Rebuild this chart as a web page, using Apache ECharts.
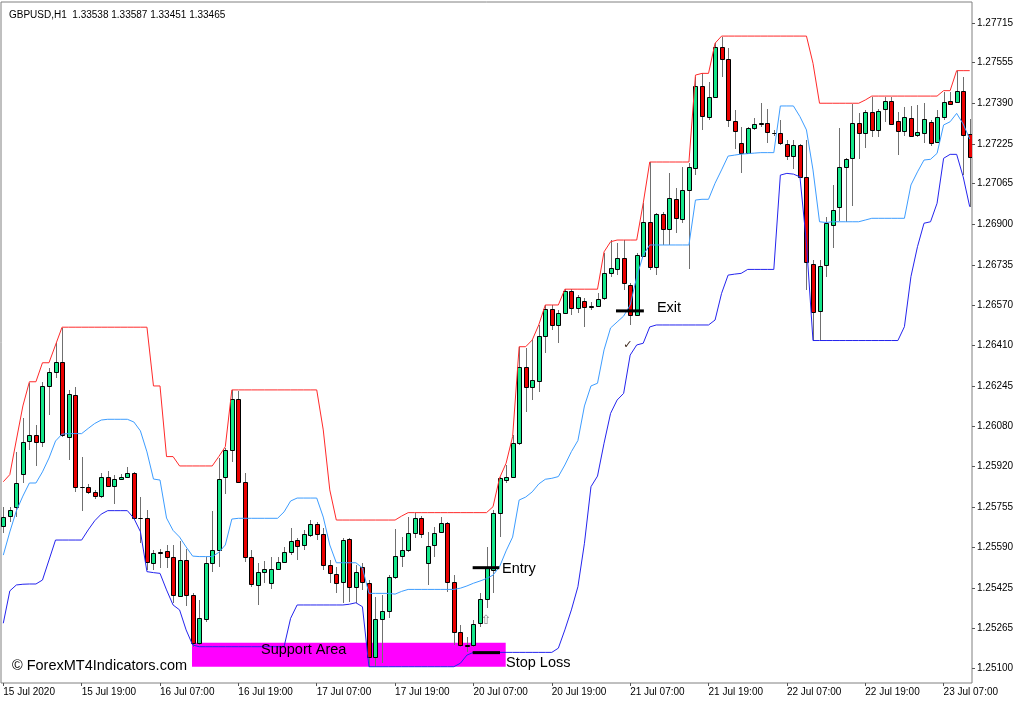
<!DOCTYPE html>
<html>
<head>
<meta charset="utf-8">
<script src="https://cdn.jsdelivr.net/npm/echarts@6/dist/echarts.min.js"></script>
<style>html,body{margin:0;padding:0;background:#fff}#c{width:1024px;height:704px}</style>
</head>
<body>
<div id="c"></div>
<script>
const headerText = 'GBPUSD,H1  1.33538 1.33587 1.33451 1.33465';
const timeLabels = ['15 Jul 2020','15 Jul 19:00','16 Jul 07:00','16 Jul 19:00','17 Jul 07:00','17 Jul 19:00','20 Jul 07:00','20 Jul 19:00','21 Jul 07:00','21 Jul 19:00','22 Jul 07:00','22 Jul 19:00','23 Jul 07:00'];
const priceTicks = [1.27715,1.27555,1.27390,1.27225,1.27065,1.26900,1.26735,1.26570,1.26410,1.26245,1.26080,1.25920,1.25755,1.25590,1.25425,1.25265,1.25100];

const opens = [
1.25678,1.25719,1.25754,1.25889,1.26022,1.26046,1.26019,1.26245,1.26303,1.26341,
1.26040,1.26209,1.25837,1.25835,1.25817,1.25801,1.25878,1.25840,1.25867,1.25877,
1.25892,1.25709,1.25711,1.25527,1.25570,1.25578,1.25552,1.25395,1.25540,1.25399,
1.25203,1.25300,1.25530,1.25581,1.25875,1.25986,1.26191,1.25857,1.25552,1.25439,
1.25490,1.25449,1.25504,1.25531,1.25571,1.25621,1.25601,1.25641,1.25684,1.25644,
1.25520,1.25482,1.25452,1.25624,1.25430,1.25512,1.25449,1.25146,1.25300,1.25334,
1.25470,1.25558,1.25581,1.25649,1.25709,1.25530,1.25601,1.25655,1.25691,1.25452,
1.25250,1.25196,1.25196,1.25286,1.25381,1.25500,1.25729,1.25864,1.25878,1.26013,
1.26323,1.26242,1.26266,1.26447,1.26555,1.26492,1.26539,1.26631,1.26560,1.26590,
1.26566,1.26569,1.26600,1.26701,1.26718,1.26762,1.26654,1.26532,1.26771,1.26908,
1.26726,1.26941,1.26880,1.27001,1.26921,1.27039,1.27127,1.27460,1.27336,1.27417,
1.27619,1.27568,1.27319,1.27230,1.27189,1.27289,1.27306,1.27309,1.27269,1.27268,
1.27225,1.27176,1.27221,1.27091,1.26739,1.26549,1.26735,1.26897,1.26969,1.27131,
1.27167,1.27311,1.27271,1.27356,1.27282,1.27365,1.27400,1.27318,1.27278,1.27331,
1.27261,1.27271,1.27315,1.27232,1.27333,1.27398,1.27394,1.27438,1.27265];

const highs = [
1.25756,1.25756,1.25979,1.26116,1.26258,1.26087,1.26262,1.26318,1.26419,1.26479,
1.26229,1.26242,1.25959,1.25848,1.25824,1.25892,1.25902,1.25885,1.25889,1.25918,
1.25895,1.25797,1.25743,1.25581,1.25584,1.25601,1.25601,1.25617,1.25584,1.25406,
1.25378,1.25554,1.25739,1.25952,1.25993,1.26229,1.26226,1.25892,1.25581,1.25530,
1.25537,1.25551,1.25551,1.25594,1.25668,1.25628,1.25662,1.25702,1.25695,1.25668,
1.25540,1.25513,1.25628,1.25628,1.25520,1.25527,1.25459,1.25392,1.25399,1.25479,
1.25664,1.25635,1.25716,1.25732,1.25718,1.25655,1.25675,1.25716,1.25695,1.25479,
1.25277,1.25230,1.25297,1.25405,1.25594,1.25743,1.25878,1.25925,1.26046,1.26404,
1.26397,1.26431,1.26492,1.26573,1.26573,1.26553,1.26636,1.26636,1.26613,1.26600,
1.26586,1.26620,1.26782,1.26836,1.26825,1.26836,1.26660,1.26782,1.26985,1.27153,
1.26947,1.26951,1.27106,1.27046,1.27133,1.27147,1.27498,1.27511,1.27477,1.27633,
1.27660,1.27613,1.27363,1.27295,1.27295,1.27329,1.27392,1.27365,1.27282,1.27322,
1.27241,1.27241,1.27225,1.27241,1.26755,1.26755,1.26930,1.27059,1.27289,1.27167,
1.27387,1.27349,1.27363,1.27417,1.27365,1.27414,1.27414,1.27356,1.27376,1.27379,
1.27383,1.27390,1.27322,1.27363,1.27437,1.27437,1.27522,1.27498,1.27325];

const lows = [
1.25651,1.25695,1.25716,1.25852,1.25986,1.25921,1.25999,1.26128,1.26278,1.26040,
1.25945,1.25817,1.25740,1.25808,1.25787,1.25790,1.25835,1.25767,1.25864,1.25872,
1.25702,1.25608,1.25500,1.25500,1.25507,1.25507,1.25365,1.25392,1.25354,1.25189,
1.25196,1.25290,1.25493,1.25511,1.25808,1.25938,1.25850,1.25533,1.25432,1.25358,
1.25448,1.25423,1.25502,1.25527,1.25561,1.25540,1.25581,1.25634,1.25621,1.25500,
1.25446,1.25405,1.25365,1.25371,1.25365,1.25419,1.25108,1.25108,1.25123,1.25304,
1.25463,1.25513,1.25574,1.25628,1.25628,1.25439,1.25554,1.25648,1.25412,1.25196,
1.25189,1.25169,1.25189,1.25270,1.25345,1.25405,1.25635,1.25851,1.25871,1.26006,
1.26141,1.26188,1.26222,1.26377,1.26472,1.26418,1.26535,1.26532,1.26539,1.26483,
1.26553,1.26565,1.26593,1.26688,1.26694,1.26634,1.26492,1.26528,1.26768,1.26715,
1.26694,1.26816,1.26816,1.26863,1.26904,1.26717,1.27099,1.27282,1.27322,1.27415,
1.27498,1.27295,1.27203,1.27106,1.27187,1.27282,1.27295,1.27228,1.27257,1.27221,
1.27160,1.27122,1.27086,1.26634,1.26427,1.26427,1.26688,1.26802,1.26914,1.26910,
1.26974,1.27163,1.27207,1.27255,1.27255,1.27315,1.27300,1.27180,1.27257,1.27255,
1.27255,1.27228,1.27217,1.27228,1.27322,1.27383,1.27390,1.27099,1.26971];

const closes = [
1.25716,1.25743,1.25851,1.26019,1.26046,1.26019,1.26245,1.26303,1.26341,1.26047,
1.26213,1.25837,1.25835,1.25817,1.25801,1.25878,1.25840,1.25867,1.25875,1.25892,
1.25709,1.25711,1.25531,1.25570,1.25574,1.25552,1.25399,1.25540,1.25399,1.25203,
1.25304,1.25527,1.25581,1.25867,1.25986,1.26191,1.25857,1.25552,1.25443,1.25493,
1.25504,1.25504,1.25531,1.25571,1.25617,1.25598,1.25644,1.25684,1.25644,1.25520,
1.25486,1.25449,1.25621,1.25430,1.25492,1.25451,1.25147,1.25300,1.25334,1.25470,
1.25558,1.25581,1.25651,1.25709,1.25646,1.25597,1.25651,1.25691,1.25452,1.25250,
1.25196,1.25190,1.25281,1.25381,1.25512,1.25729,1.25871,1.25878,1.26013,1.26323,
1.26242,1.26269,1.26447,1.26555,1.26492,1.26539,1.26631,1.26560,1.26604,1.26566,
1.26568,1.26596,1.26701,1.26722,1.26762,1.26663,1.26532,1.26775,1.26908,1.26726,
1.26941,1.26880,1.27005,1.26924,1.27039,1.27133,1.27460,1.27338,1.27417,1.27619,
1.27568,1.27322,1.27279,1.27187,1.27289,1.27305,1.27311,1.27275,1.27268,1.27228,
1.27176,1.27221,1.27093,1.26747,1.26546,1.26731,1.26904,1.26958,1.27133,1.27163,
1.27311,1.27271,1.27356,1.27282,1.27360,1.27400,1.27305,1.27278,1.27333,1.27257,
1.27272,1.27325,1.27228,1.27333,1.27396,1.27387,1.27441,1.27261,1.27174];

const upperBand = [
1.25857,1.25886,1.26026,1.26164,1.26262,1.26262,1.26339,1.26339,1.26411,1.26483,
1.26483,1.26483,1.26483,1.26483,1.26483,1.26483,1.26483,1.26483,1.26483,1.26483,
1.26483,1.26483,1.26483,1.26245,1.26245,1.25959,1.25959,1.25921,1.25921,1.25921,
1.25921,1.25921,1.25921,1.25959,1.25999,1.26229,1.26229,1.26229,1.26229,1.26229,
1.26229,1.26229,1.26229,1.26229,1.26229,1.26229,1.26229,1.26229,1.26229,1.26067,
1.25824,1.25702,1.25702,1.25702,1.25702,1.25702,1.25702,1.25702,1.25702,1.25702,
1.25702,1.25718,1.25732,1.25732,1.25732,1.25732,1.25732,1.25732,1.25732,1.25732,
1.25732,1.25732,1.25732,1.25732,1.25732,1.25756,1.25872,1.25932,1.26040,1.26404,
1.26404,1.26431,1.26492,1.26573,1.26573,1.26573,1.26637,1.26637,1.26637,1.26637,
1.26637,1.26637,1.26788,1.26829,1.26836,1.26836,1.26836,1.26836,1.26985,1.27152,
1.27152,1.27152,1.27152,1.27152,1.27152,1.27152,1.27504,1.27511,1.27511,1.27633,
1.27662,1.27662,1.27662,1.27662,1.27662,1.27662,1.27662,1.27662,1.27662,1.27662,
1.27662,1.27662,1.27662,1.27662,1.27552,1.27390,1.27390,1.27390,1.27390,1.27390,
1.27390,1.27390,1.27403,1.27419,1.27419,1.27419,1.27419,1.27419,1.27419,1.27419,
1.27419,1.27419,1.27419,1.27419,1.27441,1.27441,1.27522,1.27522,1.27522];

const middleBand = [
1.25560,1.25654,1.25739,1.25799,1.25852,1.25852,1.25897,1.25953,1.26022,1.26050,
1.26052,1.26052,1.26052,1.26073,1.26093,1.26107,1.26110,1.26110,1.26110,1.26110,
1.26099,1.26063,1.25978,1.25868,1.25864,1.25710,1.25660,1.25633,1.25593,1.25556,
1.25554,1.25554,1.25554,1.25571,1.25601,1.25706,1.25709,1.25709,1.25709,1.25709,
1.25709,1.25709,1.25709,1.25735,1.25779,1.25791,1.25791,1.25791,1.25791,1.25714,
1.25601,1.25529,1.25529,1.25529,1.25529,1.25508,1.25405,1.25405,1.25405,1.25405,
1.25402,1.25413,1.25421,1.25421,1.25421,1.25421,1.25421,1.25421,1.25421,1.25421,
1.25426,1.25435,1.25446,1.25455,1.25465,1.25479,1.25513,1.25577,1.25633,1.25783,
1.25795,1.25816,1.25848,1.25867,1.25871,1.25878,1.25925,1.25979,1.26024,1.26164,
1.26245,1.26256,1.26391,1.26480,1.26504,1.26528,1.26573,1.26686,1.26775,1.26816,
1.26816,1.26816,1.26816,1.26816,1.26816,1.26816,1.26998,1.27001,1.27001,1.27066,
1.27120,1.27176,1.27180,1.27184,1.27186,1.27188,1.27190,1.27190,1.27190,1.27379,
1.27379,1.27379,1.27336,1.27282,1.27120,1.26910,1.26907,1.26910,1.26910,1.26910,
1.26910,1.26910,1.26917,1.26924,1.26924,1.26924,1.26924,1.26924,1.26924,1.27059,
1.27112,1.27160,1.27163,1.27187,1.27302,1.27315,1.27349,1.27306,1.27245];

const lowerBand = [
1.25284,1.25415,1.25439,1.25442,1.25443,1.25443,1.25459,1.25540,1.25621,1.25621,
1.25621,1.25621,1.25621,1.25662,1.25699,1.25726,1.25740,1.25740,1.25740,1.25740,
1.25709,1.25655,1.25493,1.25489,1.25486,1.25419,1.25358,1.25338,1.25257,1.25196,
1.25189,1.25189,1.25189,1.25189,1.25189,1.25189,1.25189,1.25189,1.25189,1.25189,
1.25189,1.25189,1.25189,1.25189,1.25304,1.25358,1.25358,1.25358,1.25358,1.25358,
1.25358,1.25358,1.25358,1.25361,1.25367,1.25351,1.25108,1.25108,1.25108,1.25108,
1.25108,1.25108,1.25108,1.25108,1.25108,1.25108,1.25108,1.25108,1.25108,1.25108,
1.25122,1.25155,1.25166,1.25166,1.25166,1.25166,1.25166,1.25166,1.25166,1.25166,
1.25166,1.25166,1.25166,1.25166,1.25166,1.25183,1.25257,1.25338,1.25432,1.25608,
1.25837,1.25880,1.26013,1.26134,1.26188,1.26215,1.26370,1.26411,1.26418,1.26484,
1.26492,1.26492,1.26492,1.26492,1.26492,1.26492,1.26492,1.26492,1.26492,1.26512,
1.26620,1.26694,1.26698,1.26701,1.26717,1.26717,1.26717,1.26717,1.26717,1.27099,
1.27106,1.27103,1.27092,1.26823,1.26429,1.26429,1.26429,1.26429,1.26429,1.26429,
1.26429,1.26429,1.26429,1.26429,1.26429,1.26429,1.26429,1.26429,1.26485,1.26688,
1.26809,1.26904,1.26910,1.26985,1.27167,1.27183,1.27183,1.27092,1.26971];

// annotations, anchored in data units (bar index, price)
const supportArea = [[28.9, 1.25205, 76.94, 1.25108]];
const levelLines = [[71.88, 75.96, 1.25509], [71.88, 76.07, 1.25165], [93.83, 98.1, 1.26549]];
const noteTexts = ['Support Area', 'Entry', 'Stop Loss', 'Exit', '\u00A9 ForexMT4Indicators.com'];
const noteAnchors = [[39.46, 1.25176], [76.37, 1.25504], [76.98, 1.25125], [100.1, 1.26561], [1.33, 1.25111]];
const markTexts = ['\u2713', '\u21E7'];
const markAnchors = [[95.66, 1.26411], [73.9, 1.25293]];

const candleData = opens.map((o, i) => [i, o, closes[i], lows[i], highs[i]]);
const tickIdx = timeLabels.map((_, k) => k * 12);
const toXY = arr => arr.map((v, i) => [i, v]);

const chart = echarts.init(document.getElementById('c'), null, {renderer: 'canvas'});

function renderCandle(params, api) {
  const i = api.value(0), o = api.value(1), c = api.value(2), l = api.value(3), h = api.value(4);
  const pO = api.coord([i, o]), pC = api.coord([i, c]);
  const yH = api.coord([i, h])[1], yL = api.coord([i, l])[1];
  const cx = Math.round(pO[0]);
  const yTop = Math.round(Math.min(pO[1], pC[1]));
  const yBot = Math.round(Math.max(pO[1], pC[1]));
  const up = c >= o;
  return {
    type: 'group',
    children: [
      {type: 'line', shape: {x1: cx + 0.5, y1: Math.round(yH), x2: cx + 0.5, y2: Math.round(yL)},
       style: {stroke: '#707070', lineWidth: 1}},
      {type: 'rect', shape: {x: cx - 1.5, y: yTop + 0.5, width: 4, height: Math.max(yBot - yTop, 0)},
       style: {fill: up ? '#14e68a' : '#ea0000', stroke: '#000', lineWidth: 1}}
    ]
  };
}

const lineSeries = (name, data, color) => ({
  name, type: 'line', data: toXY(data), showSymbol: false, symbol: 'none', z: 3,
  lineStyle: {color, width: 1}, silent: true, clip: true, animation: false
});

const font = '"Liberation Sans", Arial, sans-serif';

chart.setOption({
  animation: false,
  backgroundColor: '#fff',
  title: {text: headerText, left: 4, top: 5,
    textStyle: {fontSize: 10, fontWeight: 'normal', color: '#000', fontFamily: font}},
  grid: {left: 1, right: 52, top: 2, bottom: 21, show: true, borderColor: '#808080', borderWidth: 1, backgroundColor: '#fff'},
  xAxis: {
    type: 'value', min: -0.35, max: 148.35,
    axisLine: {show: false, onZero: false}, splitLine: {show: false},
    axisTick: {show: true, customValues: tickIdx, length: 3, lineStyle: {color: '#555'}},
    axisLabel: {customValues: tickIdx, formatter: v => timeLabels[Math.round(v / 12)], align: 'left',
      margin: 4, fontSize: 10, color: '#000', fontFamily: font}
  },
  yAxis: {
    type: 'value', position: 'right', min: 1.25042, max: 1.2780005,
    axisLine: {show: false, onZero: false}, splitLine: {show: false},
    axisTick: {show: true, customValues: priceTicks, length: 3, lineStyle: {color: '#555'}},
    axisLabel: {customValues: priceTicks, formatter: v => v.toFixed(5), margin: 5, fontSize: 10,
      color: '#000', fontFamily: font}
  },
  series: [
    {
      type: 'custom', name: 'support', z: 1, silent: true, clip: true,
      data: supportArea,
      renderItem: (params, api) => {
        const a = api.coord([api.value(0), api.value(1)]);
        const b = api.coord([api.value(2), api.value(3)]);
        return {type: 'rect', shape: {x: a[0], y: a[1], width: b[0] - a[0], height: b[1] - a[1]},
          style: {fill: '#ff00ff'}};
      }
    },
    {
      type: 'custom', name: 'GBPUSD', z: 2, clip: true,
      data: candleData, encode: {x: 0, y: [1, 2, 3, 4]},
      renderItem: renderCandle
    },
    lineSeries('Upper', upperBand, '#ff2a2a'),
    lineSeries('Middle', middleBand, '#3d9dff'),
    lineSeries('Lower', lowerBand, '#2424ee'),
    {
      type: 'custom', name: 'levels', z: 5, silent: true, clip: false,
      data: levelLines,
      renderItem: (params, api) => {
        const a = api.coord([api.value(0), api.value(2)]);
        const b = api.coord([api.value(1), api.value(2)]);
        return {type: 'line', shape: {x1: a[0], y1: a[1], x2: b[0], y2: b[1]},
          style: {stroke: '#000', lineWidth: 3}};
      }
    },
    {
      type: 'custom', name: 'notes', z: 6, silent: true, clip: false,
      data: noteAnchors,
      renderItem: (params, api) => {
        const p = api.coord([api.value(0), api.value(1)]);
        return {type: 'text', x: p[0], y: p[1],
          style: {text: noteTexts[params.dataIndex], fill: '#000', font: '14.5px ' + font,
            align: 'left', verticalAlign: 'middle'}};
      }
    },
    {
      type: 'custom', name: 'marks', z: 6, silent: true, clip: false,
      data: markAnchors,
      renderItem: (params, api) => {
        const p = api.coord([api.value(0), api.value(1)]);
        const isCheck = params.dataIndex === 0;
        return {type: 'text', x: p[0], y: p[1],
          style: {text: markTexts[params.dataIndex], fill: isCheck ? '#3a2418' : '#8a8a8a',
            font: (isCheck ? 'bold 11px' : '13px') + ' "DejaVu Sans", sans-serif',
            align: 'center', verticalAlign: 'middle'}};
      }
    }
  ]
});
</script>
</body>
</html>
